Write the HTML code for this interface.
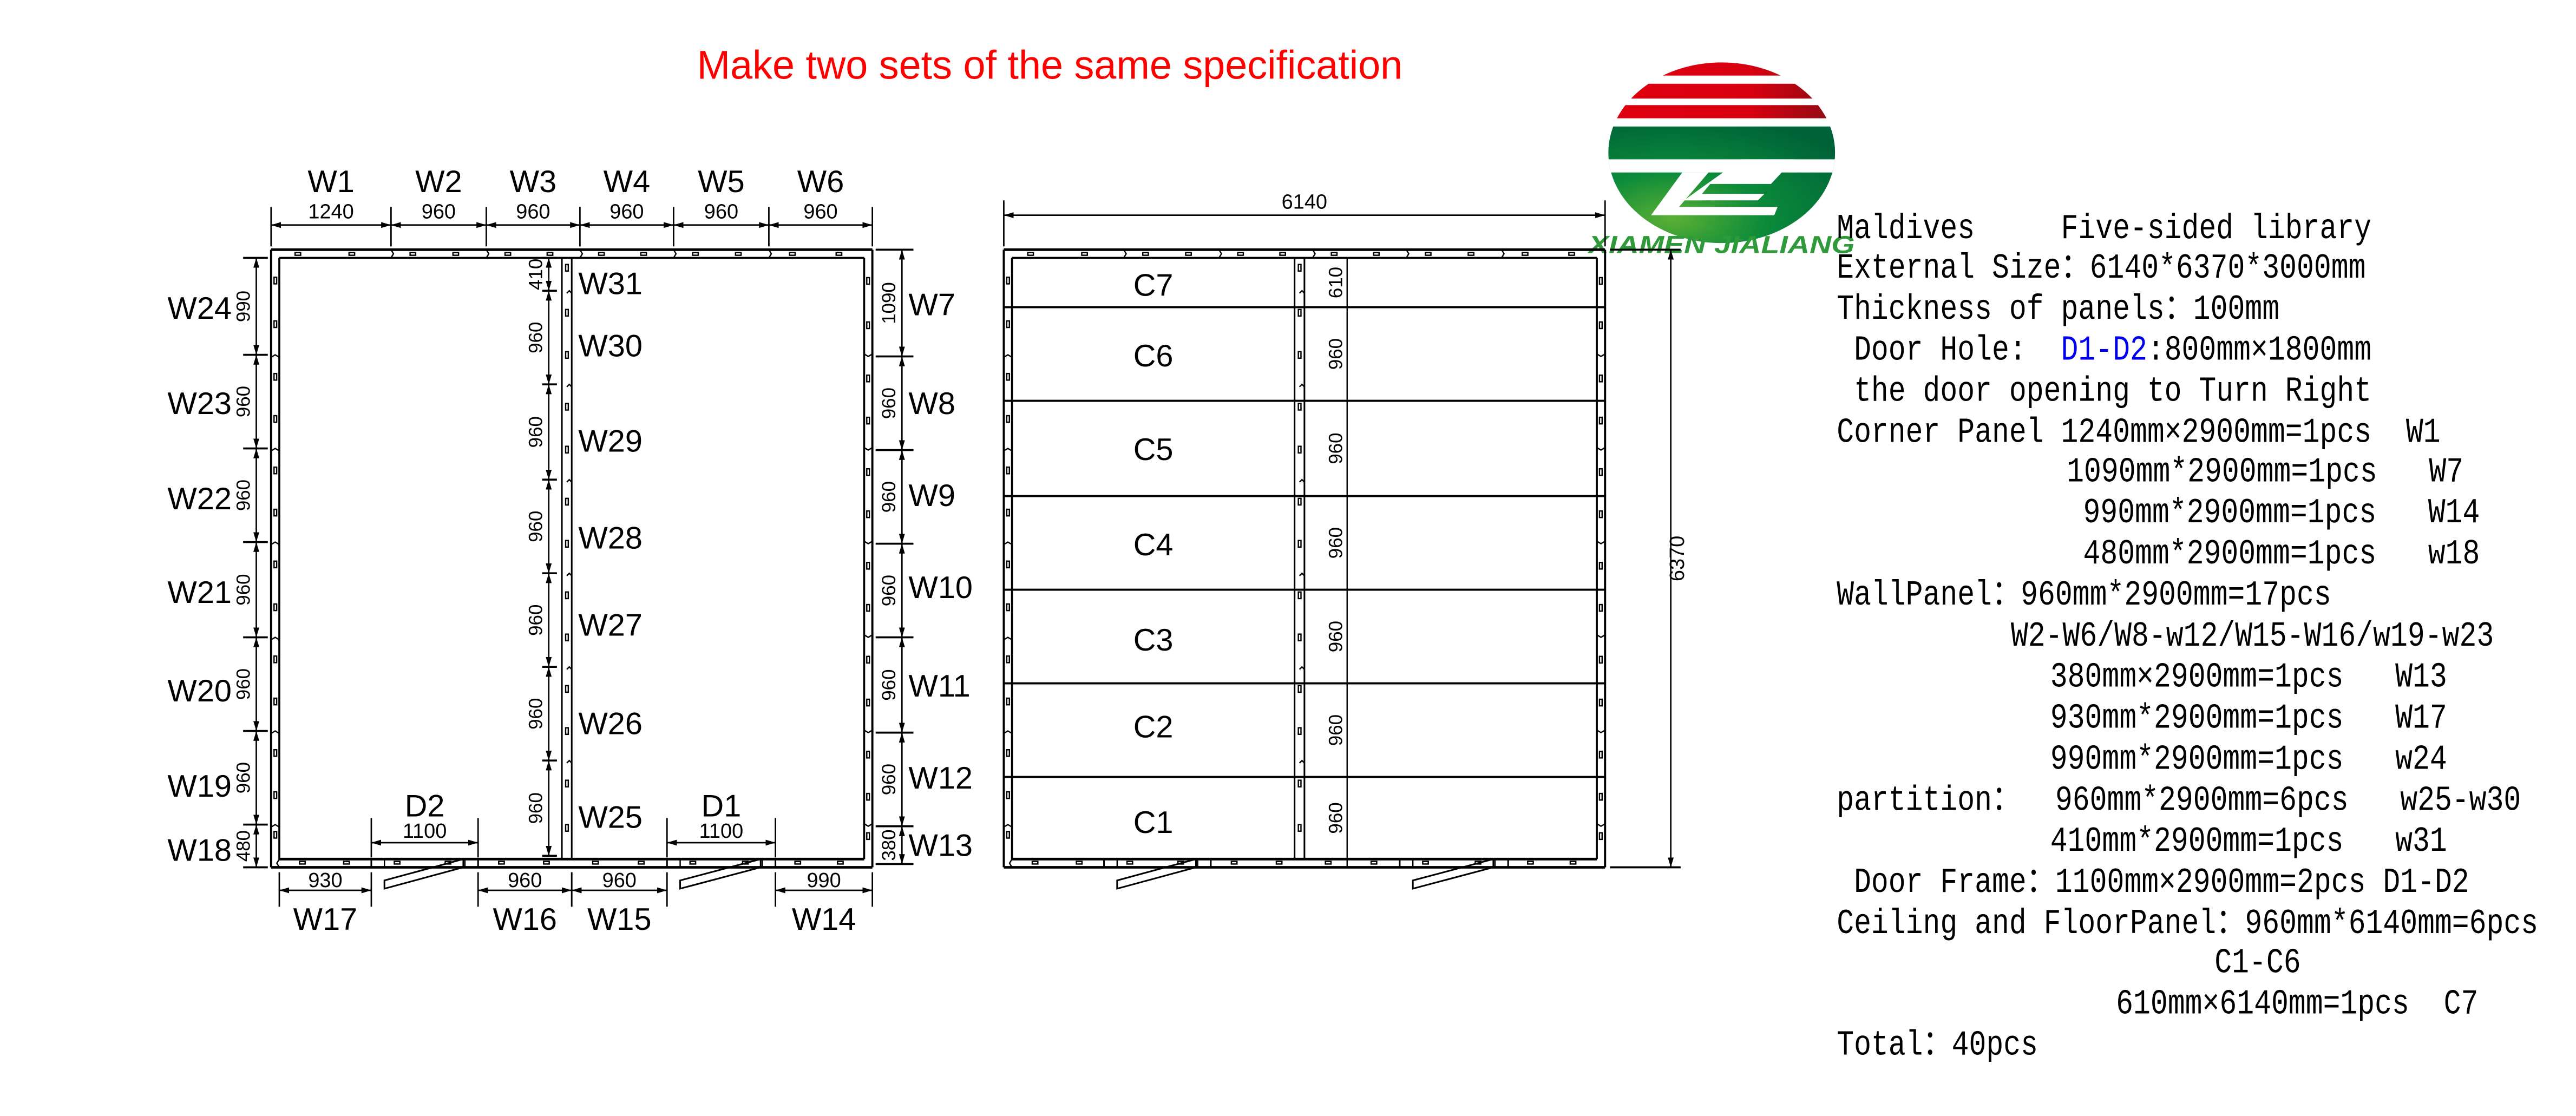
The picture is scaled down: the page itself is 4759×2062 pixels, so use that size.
<!DOCTYPE html>
<html><head><meta charset="utf-8"><style>
html,body{margin:0;padding:0;background:#fff;}
svg{display:block}
</style></head><body>
<svg id="s" xmlns="http://www.w3.org/2000/svg" width="4759" height="2062" viewBox="0 0 1568 679.4">
<defs>
<marker id="ar" viewBox="0 0 10 6" refX="10" refY="3" markerWidth="6" markerHeight="3.6" orient="auto-start-reverse" markerUnits="userSpaceOnUse"><path d="M0,0 L10,3 L0,6 z" fill="#000"/></marker>
<radialGradient id="gg" cx="0.3" cy="0.7" r="0.8"><stop offset="0" stop-color="#5bb033"/><stop offset="0.45" stop-color="#0a8a3a"/><stop offset="1" stop-color="#006238"/></radialGradient>
<linearGradient id="rg" x1="0" x2="1"><stop offset="0" stop-color="#e0000f"/><stop offset="0.6" stop-color="#d80010"/><stop offset="1" stop-color="#7a1015"/></linearGradient>
<clipPath id="ec"><ellipse cx="1048" cy="93" rx="69" ry="55"/></clipPath>
</defs>
<rect width="1568" height="679.4" fill="#fff"/>
<text x="639" y="48" font-family="Liberation Sans, sans-serif" font-size="24.3" fill="#f00" text-anchor="middle">Make two sets of the same specification</text>
<g clip-path="url(#ec)">
<rect x="970" y="36" width="160" height="10" fill="url(#rg)"/>
<rect x="970" y="51" width="160" height="9" fill="url(#rg)"/>
<rect x="970" y="64" width="160" height="8" fill="url(#rg)"/>
<rect x="970" y="77" width="160" height="80" fill="url(#gg)"/>
<rect x="970" y="97" width="160" height="8" fill="#fff"/>
<polygon points="1060,97 1092,97 1078,112 1041,112 1036,118 1074,118 1070,122 1025,122" fill="#fff"/>
<polygon points="1024,105 1040,105 1022,126 1082,126 1080,131 1005,131" fill="#fff"/>
</g>
<text x="1048" y="154" font-family="Liberation Sans, sans-serif" font-size="15" font-weight="bold" font-style="italic" fill="#2f9a3a" text-anchor="middle" textLength="162" lengthAdjust="spacingAndGlyphs">XIAMEN JIALIANG</text>
<g id="plans" fill="none" stroke="#000" stroke-width="1"></g>
<g id="txt" font-family="Liberation Sans, sans-serif" fill="#000"></g>
<g id="spec" font-family="Liberation Mono, Noto Sans CJK SC, monospace" font-size="17.5" fill="#000"></g>
</svg>
<script>
var NS="http://www.w3.org/2000/svg";
var P=document.getElementById('plans'),T=document.getElementById('txt'),S=document.getElementById('spec');
function el(p,n,a,t){var e=document.createElementNS(NS,n);for(var k in a)e.setAttribute(k,a[k]);if(t!==undefined)e.textContent=t;p.appendChild(e);return e;}
function L(x1,y1,x2,y2,w,extra){var a={x1:x1,y1:y1,x2:x2,y2:y2};if(w)a['stroke-width']=w;if(extra)for(var k in extra)a[k]=extra[k];return el(P,'line',a);}
function R(x,y,w,h){el(P,'rect',{x:x,y:y,width:w,height:h,'stroke-width':0.8});}
function D(x1,y1,x2,y2){L(x1,y1,x2,y2,0.9,{'marker-start':'url(#ar)','marker-end':'url(#ar)'});}
function tx(x,y,s,size,anchor,rot){var a={x:x,y:y,'font-size':size,'text-anchor':anchor||'middle'};if(rot)a.transform='rotate(-90 '+x+' '+y+')';return el(T,'text',a,s);}
function plan(dx){
 var x0=165+dx,x1=531+dx,y0=152,y1=528,t=5;
 L(x0,y0,x1,y0,1.6);L(x0,y0,x0,y1,1.3);L(x1,y0,x1,y1,1.3);L(x0,y1,x1,y1,1.6);
 L(x0+t,y0+t,x1-t,y0+t,1.2);L(x0+t,y0+t,x0+t,y1-t,1.2);L(x1-t,y0+t,x1-t,y1-t,1.2);L(x0+t,y1-t,x1-t,y1-t,1.6);
 var tj=[238,296,353,410,468];
 tj.forEach(function(x){el(P,'path',{d:'M'+(x+dx)+','+y0+' l1.5,2.5 l-1.5,2.5','stroke-width':0.8});});
 var tops=[165,238,296,353,410,468,531];
 for(var i=0;i<6;i++){var a=tops[i]+dx,b=tops[i+1]+dx,w=b-a;R(a+w*0.2,y0+1.8,3.4,1.6);R(a+w*0.65,y0+1.8,3.4,1.6);}
 var lj=[216,273,330,388,445,502];
 lj.forEach(function(y){el(P,'path',{d:'M'+x0+','+(y+1.5)+' l2.5,-1.5 l2.5,1.5','stroke-width':0.8});});
 var ls=[157,216,273,330,388,445,502,523];
 for(i=0;i<7;i++){var a2=ls[i],h=ls[i+1]-a2;R(x0+1.8,a2+h*0.2,1.6,4);if(h>30)R(x0+1.8,a2+h*0.65,1.6,4);}
 var rj=[217,274,331,388,446,503];
 rj.forEach(function(y){el(P,'path',{d:'M'+(x1-t)+','+(y-1.5)+' l2.5,1.5 l2.5,-1.5','stroke-width':0.8});});
 var rs=[157,217,274,331,388,446,503,523];
 for(i=0;i<7;i++){a2=rs[i];h=rs[i+1]-a2;R(x1-3.4,a2+h*0.2,1.6,4);if(h>30)R(x1-3.4,a2+h*0.65,1.6,4);}
 var px=342+dx;L(px,157,px,523,1);L(px+6,157,px+6,523,1);
 [177,234,292,349,406,463].forEach(function(y){el(P,'path',{d:'M'+(px+6)+','+(y+1.5)+' l-1.5,-1.5 l-1.5,1.5','stroke-width':0.8});});
 var ps=[157,177,234,292,349,406,463,523];
 for(i=0;i<7;i++){a2=ps[i];h=ps[i+1]-a2;R(px+2.3,a2+h*0.2,1.6,4);if(h>30)R(px+2.3,a2+h*0.65,1.6,4);}
 var bs=[[170,226],[291,348],[348,406],[472,526]];
 bs.forEach(function(s){var a=s[0]+dx,b=s[1]+dx,w=b-a;R(a+w*0.22,y1-3.6,3.4,1.6);R(a+w*0.7,y1-3.6,3.4,1.6);});
 [[226,291],[406,472]].forEach(function(d){var a=d[0]+dx,b=d[1]+dx;
  L(a,y1-t,a,y1,1);L(b,y1-t,b,y1,1);L(a+8,y1-t,a+8,y1,0.8);L(b-8,y1-t,b-8,y1,0.8);
  R(a+14,y1-3.6,3.4,1.6);R(b-20,y1-3.6,3.4,1.6);
  el(P,'polygon',{points:(a+8)+','+(y1+8)+' '+(b-9)+','+(y1-5)+' '+(b-9)+','+(y1)+' '+(a+8)+','+(y1+13),'stroke-width':1});
 });
 el(P,'path',{d:'M'+(x0+t)+','+(y1-t)+' l-1.5,2.5 l1.5,2.5','stroke-width':0.8});
}
plan(0);plan(446);
var tops=[165,238,296,353,410,468,531],tn=['1240','960','960','960','960','960'],tw=['W1','W2','W3','W4','W5','W6'];
tops.forEach(function(x){L(x,126,x,150,0.9);});
for(var i=0;i<6;i++){D(tops[i],137,tops[i+1],137);var c=(tops[i]+tops[i+1])/2;tx(c,133,tn[i],12.5);tx(c,117,tw[i],19);}
var ls=[157,216,273,330,388,445,502,528],ln=['990','960','960','960','960','960','480'],lw=['W24','W23','W22','W21','W20','W19','W18'],ly=[187,245,303,360,420,478,517];
ls.forEach(function(y){L(148,y,163,y,1.2);});
for(i=0;i<7;i++){D(156,ls[i],156,ls[i+1]);var m=(ls[i]+ls[i+1])/2;tx(152,m,ln[i],11.5,'middle',true);tx(141,ly[i]+7,lw[i],19,'end');}
var rs=[152,217,274,331,388,446,503,526],rn=['1090','960','960','960','960','960','380'],rw=['W7','W8','W9','W10','W11','W12','W13'],ry=[185,245,301,357,417,473,514];
rs.forEach(function(y){L(533,y,556,y,1.2);});
for(i=0;i<7;i++){D(549,rs[i],549,rs[i+1]);m=(rs[i]+rs[i+1])/2;tx(545,m,rn[i],11.5,'middle',true);tx(553,ry[i]+7,rw[i],19,'start');}
var ps=[157,177,234,292,349,406,463,521],pn=['410','960','960','960','960','960','960'],pw=['W31','W30','W29','W28','W27','W26','W25'],py=[172,210,268,327,380,440,497];
ps.forEach(function(y){L(330,y,339,y,1.2);});
for(i=0;i<7;i++){D(334,ps[i],334,ps[i+1]);m=(ps[i]+ps[i+1])/2;tx(330,m,pn[i],11.5,'middle',true);tx(352,py[i]+7,pw[i],19,'start');}
var bx=[[170,226,'930','W17'],[291,348,'960','W16'],[348,406,'960','W15'],[472,531,'990','W14']];
bx.forEach(function(b){L(b[0],531,b[0],552,0.9);L(b[1],531,b[1],552,0.9);D(b[0],542,b[1],542);var c=(b[0]+b[1])/2;tx(c,540,b[2],12.5);tx(c,566,b[3],19);});
[[226,291,'D2'],[406,472,'D1']].forEach(function(d){L(d[0],498,d[0],522,0.9);L(d[1],498,d[1],522,0.9);D(d[0],513,d[1],513);var c=(d[0]+d[1])/2;tx(c,510,'1100',12.5);tx(c,497,d[2],19);});
L(611,122,611,150,0.9);L(977,122,977,150,0.9);D(611,131,977,131);tx(794,127,'6140',12.5);
L(980,152,1023,152,1.2);L(980,528,1023,528,1.2);D(1017,152,1017,528);tx(1025,340,'6370',12.5,'middle',true);
[187,244,302,359,416,473].forEach(function(y){L(611,y,977,y,1.3);});
L(820,157,820,528,0.8);
var cy=[173,216,273,331,389,442,500],cl=['C7','C6','C5','C4','C3','C2','C1'],cs=[157,187,244,302,359,416,473,523];
for(i=0;i<7;i++){tx(702,cy[i]+7,cl[i],19);m=(cs[i]+cs[i+1])/2;tx(817,m,i==0?'610':'960',11.5,'middle',true);}
var lines=[[1118,145,'Maldives     Five-sided library'],[1118,169,'External Size：6140*6370*3000mm'],[1118,194,'Thickness of panels：100mm'],[1118,219,null],[1118,244,' the door opening to Turn Right'],[1118,269,'Corner Panel 1240mm×2900mm=1pcs  W1'],[1258,293,'1090mm*2900mm=1pcs   W7'],[1268,318,'990mm*2900mm=1pcs   W14'],[1268,343,'480mm*2900mm=1pcs   w18'],[1118,368,'WallPanel：960mm*2900mm=17pcs'],[1224,393,'W2-W6/W8-w12/W15-W16/w19-w23'],[1248,418,'380mm×2900mm=1pcs   W13'],[1248,443,'930mm*2900mm=1pcs   W17'],[1248,468,'990mm*2900mm=1pcs   w24'],[1118,493,'partition：  960mm*2900mm=6pcs   w25-w30'],[1248,518,'410mm*2900mm=1pcs   w31'],[1118,543,' Door Frame：1100mm×2900mm=2pcs D1-D2'],[1118,568,'Ceiling and FloorPanel：960mm*6140mm=6pcs'],[1348,592,'C1-C6'],[1288,617,'610mm×6140mm=1pcs  C7'],[1118,642,'Total：40pcs']];
lines.forEach(function(l){var t=el(S,'text',{transform:'translate('+l[0]+','+l[1]+') scale(1,1.22)'});t.style.whiteSpace='pre';
 if(l[2]===null){el(t,'tspan',{},' Door Hole:  ');el(t,'tspan',{fill:'#0000ee'},'D1-D2');el(t,'tspan',{},':800mm×1800mm');}
 else t.textContent=l[2];});
</script>
</body></html>
